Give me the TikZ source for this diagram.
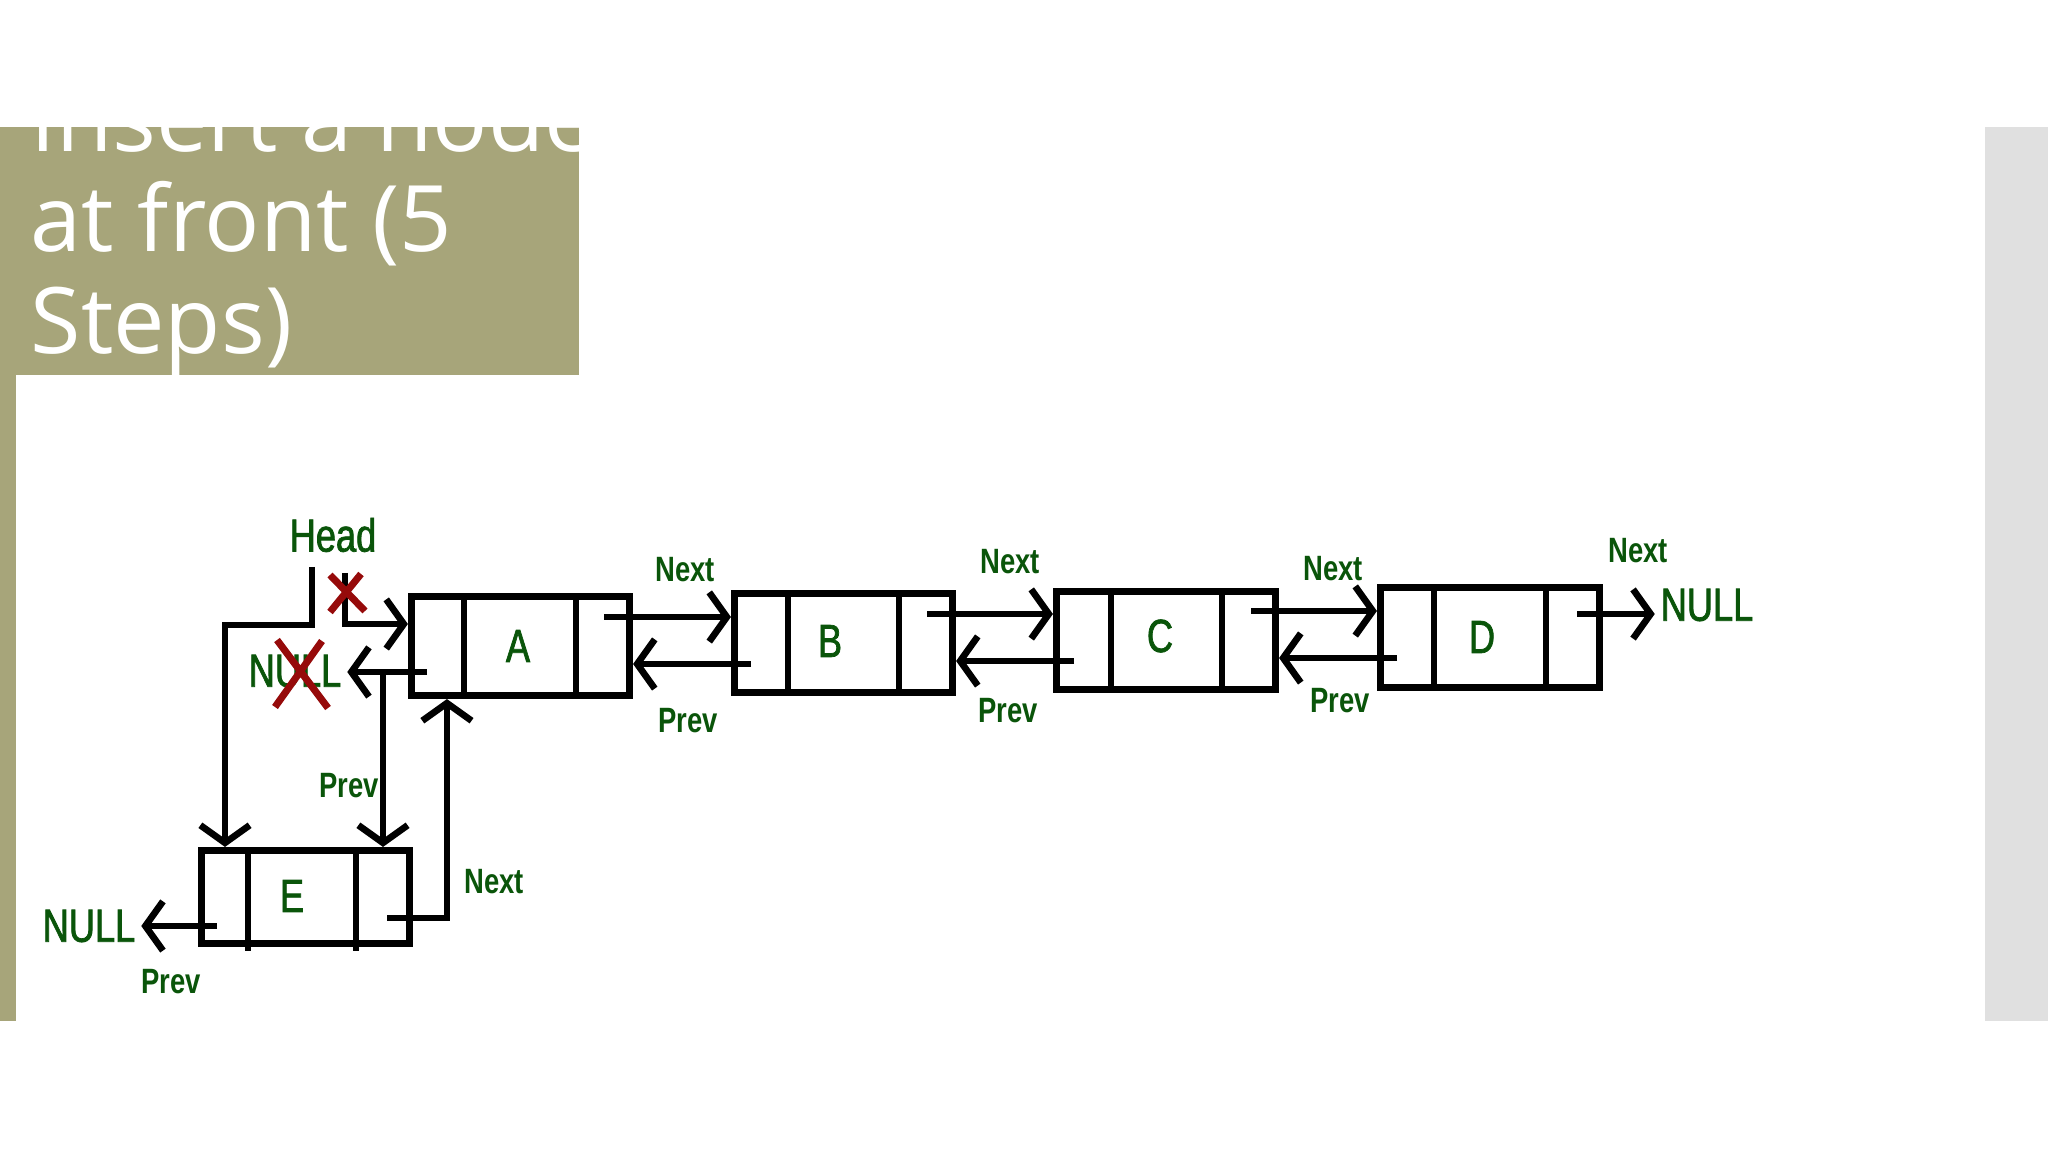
\documentclass[tikz,border=0pt]{standalone}
\usepackage{fontspec}
\setmainfont{Open Sans}
\newfontfamily\titlefont{Open Sans}
\newfontfamily\lblfont[FakeStretch=0.78]{Liberation Sans}
\newfontfamily\lblheavy[FakeStretch=0.78,FakeBold=1.6]{Liberation Sans}
\usetikzlibrary{arrows.meta}
\definecolor{titleolive}{RGB}{167,165,122}
\definecolor{sidegray}{RGB}{224,224,224}
\definecolor{lblgreen}{RGB}{10,85,10}
\definecolor{xred}{RGB}{150,10,10}
\begin{document}
\begin{tikzpicture}[x=0.01cm, y=-0.01cm,
  listbox/.style={draw=black, line width=2pt, inner sep=0pt, minimum width=2.18cm, minimum height=0.99cm},
  divider/.style={line width=1.5pt},
  ptr/.style={line width=1.9pt, -{Straight Barb[length=5pt,width=14pt]}},
  bigl/.style={text=lblgreen, inner sep=1.5pt, font=\lblheavy\fontsize{13.2pt}{15pt}\selectfont},
  smalll/.style={text=lblgreen, inner sep=1pt, font=\lblfont\bfseries\fontsize{10pt}{12pt}\selectfont},
  xmark/.style={draw=xred, line width=2pt},
  titletext/.style={text=white, inner sep=0pt, anchor=base west, font=\titlefont\fontsize{26.1pt}{28.5pt}\selectfont}]
\useasboundingbox (0,0) rectangle (2048,1152);
\fill[white] (0,0) rectangle (2048,1152);
% slide decoration
\fill[titleolive] (0,126.7) rectangle (578.6,374.8);
\fill[titleolive] (0,374.8) rectangle (15.7,1021);
\fill[sidegray] (1985,126.7) rectangle (2048,1021);
\begin{scope}
  \clip (0,126.7) rectangle (578.6,374.8);
  \node[titletext] (t1) at (30,151.5) {Insert a node};
  \node[titletext] (t2) at (30,252) {at front (5};
  \node[titletext] (t3) at (30,354) {Steps)};
\end{scope}
% boxes
\node[listbox] (A) at (520.5,646) {};
\node[listbox] (B) at (843.5,643) {};
\node[listbox, minimum width=2.19cm, minimum height=0.98cm] (C) at (1166,640.5) {};
\node[listbox, minimum width=2.19cm, minimum height=1.00cm] (D) at (1490,637.5) {};
\node[listbox, minimum width=2.08cm, minimum height=0.93cm] (E) at (305.5,897) {};
\draw[divider] (464,596.5) -- (464,695.5) (576,596.5) -- (576,695.5);
\draw[divider] (788,593.5) -- (788,692.5) (899,593.5) -- (899,692.5);
\draw[divider] (1111,591.5) -- (1111,689.5) (1222,591.5) -- (1222,689.5);
\draw[divider] (1434,587.5) -- (1434,687.5) (1546,587.5) -- (1546,687.5);
\draw[divider] (248,850.5) -- (248,951) (356,850.5) -- (356,951);
% letters
\node[bigl] (Alab) at (518,646) {A};
\node[bigl] (Blab) at (830,641) {B};
\node[bigl] (Clab) at (1160,636) {C};
\node[bigl] (Dlab) at (1482,637) {D};
\node[bigl] (Elab) at (292,896) {E};
% text labels
\node[bigl] (head) at (333,535) {Head};
\node[bigl] (nullA) at (295,671) {NULL};
\node[bigl] (nullR) at (1707,605) {NULL};
\node[bigl] (nullL) at (89,926) {NULL};
\node[smalll] (nAB) at (685,570) {Next};
\node[smalll] (pAB) at (688,721) {Prev};
\node[smalll] (nBC) at (1010,562) {Next};
\node[smalll] (pBC) at (1008,711) {Prev};
\node[smalll] (nCD) at (1333,569) {Next};
\node[smalll] (pCD) at (1340,701) {Prev};
\node[smalll] (nD) at (1638,551) {Next};
\node[smalll] (pE1) at (349,786) {Prev};
\node[smalll] (nE) at (494,882) {Next};
\node[smalll] (pE2) at (171,982) {Prev};
% pointer origins
\coordinate (Anx) at (604,617);
\coordinate (Bpv) at (751,664);
\coordinate (Bnx) at (927,614);
\coordinate (Cpv) at (1074,661);
\coordinate (Cnx) at (1251,611);
\coordinate (Dpv) at (1397,658);
\coordinate (Dnx) at (1577,614);
\coordinate (Apv) at (427,672);
\coordinate (Abr) at (383,672);
\coordinate (Epv) at (217,926);
\coordinate (Enx) at (387,918);
\coordinate (H1) at (312,567);
\coordinate (Hbend) at (225,625);
\coordinate (H2) at (345,573);
\coordinate (H2b) at (345,624);
% connectors
\draw[ptr] (Anx) -- (Anx -| B.west);
\draw[ptr] (Bpv) -- (Bpv -| A.east);
\draw[ptr] (Bnx) -- (Bnx -| C.west);
\draw[ptr] (Cpv) -- (Cpv -| B.east);
\draw[ptr] (Cnx) -- (Cnx -| D.west);
\draw[ptr] (Dpv) -- (Dpv -| C.east);
\draw[ptr] (Dnx) -- (Dnx -| nullR.west);
\draw[ptr] (Apv) -- (Apv -| nullA.east);
\draw[ptr] (Abr) -- (Abr |- E.north);
\draw[ptr] (Epv) -- (Epv -| nullL.east);
\draw[ptr] (Enx) -| ([xshift=-0.735cm]A.south);
\draw[ptr] (H1) |- (Hbend) -- (Hbend |- E.north);
\draw[ptr] (H2) -- (H2b) -- (H2b -| A.west);
% crossed-out marks
\draw[xmark] (330,575) -- (365,611) (361,574) -- (330,612);
\draw[xmark] (277,640) -- (328,708) (322,641) -- (275,707);
\end{tikzpicture}
\end{document}
